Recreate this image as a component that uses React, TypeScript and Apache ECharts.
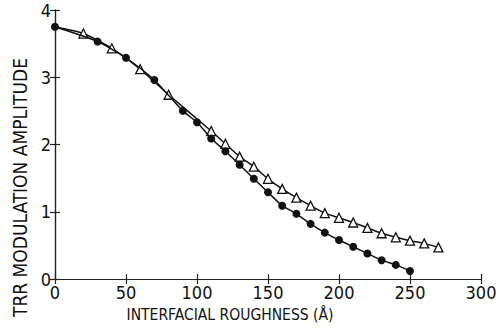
import React, { useEffect, useRef } from "react";
import * as echarts from "echarts";

const circleX = [0, 30, 50, 70, 90, 100, 110, 120, 130, 140, 150, 160, 170, 180, 190, 200, 210, 220, 230, 240, 250];
const circleY = [3.75, 3.53, 3.29, 2.96, 2.5, 2.33, 2.09, 1.9, 1.7, 1.49, 1.29, 1.09, 0.97, 0.82, 0.69, 0.58, 0.48, 0.38, 0.28, 0.21, 0.12];

const triX = [0, 20, 40, 60, 80, 110, 120, 130, 140, 150, 160, 170, 180, 190, 200, 210, 220, 230, 240, 250, 260, 270];
const triY = [3.75, 3.65, 3.43, 3.12, 2.74, 2.2, 2.01, 1.82, 1.67, 1.49, 1.34, 1.21, 1.09, 0.98, 0.91, 0.84, 0.76, 0.68, 0.62, 0.57, 0.53, 0.47];

const xTicks = [0, 50, 100, 150, 200, 250, 300];
const yTicks = [0, 1, 2, 3, 4];

const FONT = "'Liberation Sans Narrow', 'DejaVu Sans Condensed', Roboto, sans-serif";

export default function App() {
  const ref = useRef<HTMLDivElement>(null);
  useEffect(() => {
    if (!ref.current) return;
    const chart = echarts.init(ref.current, null, { renderer: "svg" });
    const axisLine = { show: true, lineStyle: { color: "#222", width: 1.2 } };
    const tick = { show: true, inside: true, length: 5, lineStyle: { color: "#222", width: 1.2 } };
    chart.setOption({
      animation: false,
      backgroundColor: "#fff",
      grid: { left: 55, right: 22, top: 10, bottom: 52, containLabel: false },
      xAxis: [
        {
          type: "value",
          min: xTicks[0],
          max: xTicks[xTicks.length - 1],
          interval: 50,
          position: "bottom",
          axisLine,
          axisTick: tick,
          splitLine: { show: false },
          axisLabel: { color: "#111", fontSize: 18, fontFamily: FONT, margin: 4 },
          name: "INTERFACIAL ROUGHNESS (Å)",
          nameLocation: "middle",
          nameGap: 28,
          nameTextStyle: { color: "#111", fontSize: 15.5, fontFamily: FONT, padding: [0, 76, 0, 0] },
        },
        {
          type: "value",
          min: xTicks[0],
          max: xTicks[xTicks.length - 1],
          interval: 50,
          position: "top",
          axisLine,
          axisTick: tick,
          splitLine: { show: false },
          axisLabel: { show: false },
        },
      ],
      yAxis: [
        {
          type: "value",
          min: yTicks[0],
          max: yTicks[yTicks.length - 1],
          interval: 1,
          position: "left",
          axisLine,
          axisTick: tick,
          splitLine: { show: false },
          axisLabel: { color: "#111", fontSize: 18, fontFamily: FONT, margin: 4 },
          name: "TRR MODULATION AMPLITUDE",
          nameLocation: "middle",
          nameGap: 24,
          nameTextStyle: { color: "#111", fontSize: 19, fontFamily: FONT, padding: [0, 86, 0, 0] },
        },
        {
          type: "value",
          min: yTicks[0],
          max: yTicks[yTicks.length - 1],
          interval: 1,
          position: "right",
          axisLine,
          axisTick: tick,
          splitLine: { show: false },
          axisLabel: { show: false },
        },
      ],
      series: [
        {
          type: "line",
          data: triX.map((x, i) => ({
            value: [x, triY[i]],
            symbol: i === 0 ? "none" : "triangle",
          })),
          smooth: 0.2,
          symbolSize: 9,
          lineStyle: { color: "#111", width: 1.5 },
          itemStyle: { color: "#fff", borderColor: "#111", borderWidth: 1.3 },
          z: 2,
        },
        {
          type: "line",
          data: circleX.map((x, i) => [x, circleY[i]]),
          smooth: 0.2,
          symbol: "circle",
          symbolSize: 8,
          lineStyle: { color: "#111", width: 1.5 },
          itemStyle: { color: "#111", borderColor: "#111", borderWidth: 0 },
          z: 3,
        },
      ],
    });
    return () => chart.dispose();
  }, []);
  return <div ref={ref} style={{ width: 503, height: 331, position: "absolute", left: 0, top: 0 }} />;
}
